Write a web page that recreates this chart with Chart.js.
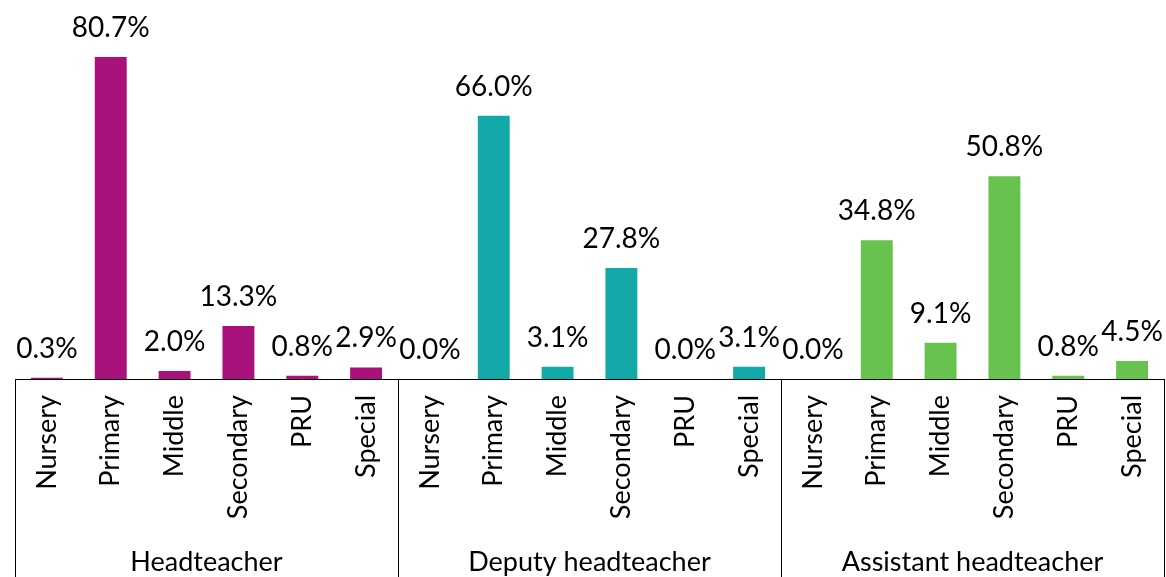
<!DOCTYPE html>
<html>
<head>
<meta charset="utf-8">
<script src="https://cdn.jsdelivr.net/npm/chart.js@4"></script>
<style>
  html, body { margin: 0; padding: 0; background: #fff; overflow: hidden; }
  #wrap { width: 1166px; height: 577px; }
</style>
</head>
<body>
<div id="wrap"><canvas id="chart"></canvas></div>
<script>
  const schoolTypes = ['Nursery', 'Primary', 'Middle', 'Secondary', 'PRU', 'Special'];
  const roles = ['Headteacher', 'Deputy headteacher', 'Assistant headteacher'];
  const headteacher = [0.3, 80.7, 2.0, 13.3, 0.8, 2.9];
  const deputy = [0.0, 66.0, 3.1, 27.8, 0.0, 3.1];
  const assistant = [0.0, 34.8, 9.1, 50.8, 0.8, 4.5];
  const roleColours = ['#A8127A', '#13A9A9', '#67C24E'];

  const labels = [];
  const values = [];
  const colours = [];
  [headteacher, deputy, assistant].forEach(function (series, g) {
    series.forEach(function (v, i) {
      labels.push(schoolTypes[i]);
      values.push(v);
      colours.push(roleColours[g]);
    });
  });

  const groupPlugin = {
    id: 'groups',
    afterDraw(chart) {
      const ctx = chart.ctx;
      const x = chart.scales.x;
      const area = chart.chartArea;
      const n = schoolTypes.length;

      // value labels above bars
      const meta = chart.getDatasetMeta(0);
      ctx.save();
      ctx.fillStyle = '#000';
      ctx.font = '28px Lato';
      ctx.textAlign = 'center';
      ctx.textBaseline = 'alphabetic';
      meta.data.forEach(function (bar, i) {
        ctx.fillText(values[i].toFixed(1) + '%', bar.x, bar.y - 20);
      });

      // group separators and box
      ctx.strokeStyle = '#000';
      ctx.lineWidth = 1;
      const edges = [area.left];
      for (let g = 1; g < roles.length; g++) {
        edges.push((x.getPixelForValue(g * n - 1) + x.getPixelForValue(g * n)) / 2);
      }
      edges.push(area.right);
      edges.forEach(function (ex) {
        const px = Math.round(ex) + 0.5;
        ctx.beginPath();
        ctx.moveTo(px, area.bottom);
        ctx.lineTo(px, chart.height);
        ctx.stroke();
      });

      // group labels
      ctx.font = '27px Lato';
      roles.forEach(function (role, g) {
        ctx.fillText(role, (edges[g] + edges[g + 1]) / 2, chart.height - 6);
      });
      ctx.restore();
    }
  };

  new Chart(document.getElementById('chart'), {
    type: 'bar',
    data: {
      labels: labels,
      datasets: [{
        data: values,
        backgroundColor: colours,
        categoryPercentage: 1,
        barPercentage: 0.5,
      }],
    },
    options: {
      responsive: true,
      maintainAspectRatio: false,
      animation: false,
      layout: { padding: { left: 15, right: 2, top: 0, bottom: 0 } },
      plugins: { legend: { display: false }, tooltip: { enabled: false } },
      scales: {
        x: {
          grid: { display: false, drawTicks: false },
          border: { display: true, color: '#000', width: 1 },
          ticks: {
            minRotation: 90,
            maxRotation: 90,
            autoSkip: false,
            padding: 16,
            color: '#000',
            font: { family: 'Lato', size: 27 },
          },
          afterFit(scale) {
            scale.height = 198;
            scale.paddingLeft = 0;
            scale.paddingRight = 0;
          },
        },
        y: {
          display: false,
          min: 0,
          max: 95,
        },
      },
    },
    plugins: [groupPlugin],
  });
</script>
</body>
</html>
